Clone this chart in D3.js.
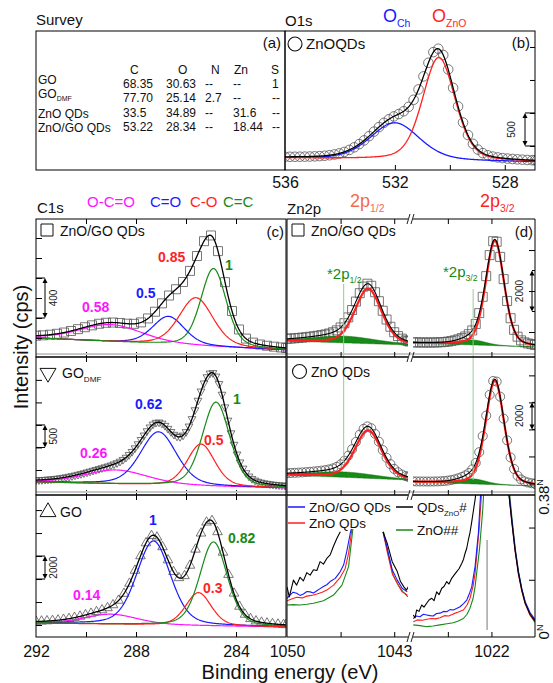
<!DOCTYPE html>
<html>
<head>
<meta charset="utf-8">
<title>XPS survey, O1s, C1s, Zn2p</title>
<script src="https://cdn.jsdelivr.net/npm/d3@7"></script>
<style>
  body { margin: 0; background: #fff; }
  text { font-family: "Liberation Sans", Arial, sans-serif; }
</style>
</head>
<body>
<script>
// ---------- values ----------
var surveyCols = ["C", "O", "N", "Zn", "S"];
var surveyRows = ["GO", "GO_DMF", "ZnO QDs", "ZnO/GO QDs"];
var surveyVals = [
  ["68.35", "30.63", "--", "--", "1"],
  ["77.70", "25.14", "2.7", "--", "--"],
  ["33.5", "34.89", "--", "31.6", "--"],
  ["53.22", "28.34", "--", "18.44", "--"]
];

// O1s of ZnO QDs : O_Ch , O_ZnO
var o1sCenter = [532.0, 530.4];
var o1sHeight = [560, 1560];
var o1sFwhm = [2.1, 1.4];
var o1sBg = [318, 258];
var o1sTicks = [500, 1000, 1500, 2000];

// C1s : components O-C=O, C=O, C-O, C=C  for ZnO/GO QDs, GO_DMF, GO
var c1sBonds = ["O-C=O", "C=O", "C-O", "C=C"];
var c1sSamples = ["ZnO/GO QDs", "GO_DMF", "GO"];
var c1sCenter = [[289.0, 286.7, 285.6, 284.9], [288.8, 287.1, 285.4, 284.8], [289.0, 287.3, 285.5, 284.9]];
var c1sHeight = [[170, 280, 480, 780], [310, 1180, 930, 1870], [870, 7300, 2870, 7300]];
var c1sFwhm = [[3.0, 1.5, 1.6, 1.2], [3.0, 1.7, 1.3, 1.3], [2.5, 1.6, 1.2, 1.3]];
var c1sBg = [[200, 80], [233, 100], [2175, 1827]];
var c1sRatio = [["0.58", "0.5", "0.85", "1"], ["0.26", "0.62", "0.5", "1"], ["0.14", "1", "0.3", "0.82"]];
var c1sTicks = [[200, 400, 600, 800, 1000, 1200], [500, 1000, 1500, 2000, 2500], [2000, 4000, 6000, 8000, 10000, 12000]];
var c1sBar = [[400, 800], [1000, 1500], [6000, 8000]];

// Zn2p : 2p1/2 (left part of axis), 2p3/2 (right part) for ZnO/GO QDs and ZnO QDs
var zn2pSamples = ["ZnO/GO QDs", "ZnO QDs"];
var zn2pCenter = [1044.7, 1021.6];
var zn2pFwhm = [2.05, 2.5];
var zn2pHeight = [[2680, 5120], [3550, 7700]];
var zn2pSatCenter = [1046.3, 1024.1];
var zn2pSatFwhm = [5, 3.5];
var zn2pSatHeight = [[330, 240], [400, 380]];
var zn2pBgLeft = [[1560, 1370], [2630, 2257]];
var zn2pBgRight = [[1465, 1270], [2110, 1813]];
var zn2pTicks = [[2000, 4000, 6000], [2000, 4000, 6000, 8000, 10000]];
var zn2pBar = [[3000, 5000], [6000, 8000]];

// Zn2p zoom, normalised intensity
var zoomNames = ["ZnO/GO QDs", "ZnO QDs", "QDs_ZnO_#", "ZnO##"];
var goLeft = [[1050.0,0.095],[1049.8,0.104],[1049.6,0.112],[1049.37,0.109],[1049.15,0.103],[1048.93,0.107],[1048.7,0.114],[1048.49,0.113],[1048.27,0.110],[1048.05,0.116],[1047.84,0.122],[1047.62,0.128],[1047.4,0.133],[1047.18,0.142],[1046.85,0.151],[1046.52,0.170],[1046.3,0.189],[1046.1,0.226],[1045.87,0.278],[1045.8,0.29]];
var goLeft2 = [[1043.73,0.282],[1043.46,0.236],[1043.13,0.175],[1042.8,0.146],[1042.48,0.123],[1042.15,0.113]];
var goRight = [[1030.97,0.038],[1030.6,0.045],[1030.2,0.043],[1029.8,0.050],[1029.43,0.048],[1029.05,0.046],[1028.67,0.045],[1028.3,0.052],[1027.9,0.053],[1027.5,0.058],[1027.13,0.057],[1026.75,0.063],[1026.37,0.062],[1026.0,0.066],[1025.6,0.071],[1025.2,0.080],[1024.83,0.090],[1024.5,0.110],[1024.26,0.127],[1023.88,0.184],[1023.5,0.278],[1023.19,0.41]];
var goRight2 = [[1020.06,0.41],[1019.67,0.318],[1019.29,0.235],[1018.91,0.170],[1018.52,0.122],[1018.14,0.086],[1017.57,0.055],[1017.0,0.035]];
var znoLeft = [[1050.0,0.088],[1049.7,0.093],[1049.37,0.098],[1049.0,0.096],[1048.71,0.101],[1048.4,0.103],[1048.05,0.107],[1047.7,0.112],[1047.4,0.118],[1046.96,0.132],[1046.52,0.154],[1046.2,0.179],[1045.98,0.221],[1045.76,0.29]];
var znoLeft2 = [[1043.73,0.282],[1043.46,0.226],[1043.13,0.165],[1042.8,0.137],[1042.48,0.113],[1042.15,0.104]];
var znoRight = [[1030.97,0.029],[1030.5,0.034],[1029.9,0.033],[1029.43,0.036],[1028.9,0.038],[1028.4,0.037],[1027.9,0.040],[1027.4,0.046],[1026.9,0.045],[1026.37,0.051],[1025.8,0.056],[1025.22,0.062],[1024.8,0.076],[1024.46,0.095],[1024.1,0.130],[1023.88,0.165],[1023.42,0.287],[1023.08,0.41]];
var znoRight2 = [[1020.06,0.41],[1019.67,0.312],[1019.29,0.228],[1018.91,0.163],[1018.52,0.116],[1018.14,0.080],[1017.57,0.048],[1017.0,0.029]];
var refLeft = [[1050.0,0.127],[1049.85,0.099],[1049.58,0.146],[1049.37,0.132],[1049.15,0.154],[1048.93,0.144],[1048.71,0.167],[1048.49,0.160],[1048.27,0.175],[1048.05,0.173],[1047.84,0.198],[1047.62,0.191],[1047.4,0.207],[1047.18,0.217],[1046.96,0.242],[1046.74,0.264],[1046.52,0.282]];
var refLeft2 = [[1043.73,0.282],[1043.46,0.250],[1043.13,0.198],[1042.8,0.170],[1042.59,0.142],[1042.37,0.127],[1042.2,0.118],[1042.04,0.130]];
var refRight = [[1030.97,0.048],[1030.77,0.040],[1030.58,0.062],[1030.31,0.058],[1030.0,0.076],[1029.74,0.070],[1029.43,0.081],[1029.16,0.090],[1028.85,0.095],[1028.59,0.088],[1028.28,0.113],[1028.01,0.105],[1027.7,0.123],[1027.44,0.128],[1027.13,0.142],[1026.87,0.135],[1026.56,0.151],[1026.29,0.160],[1025.98,0.170],[1025.72,0.178],[1025.41,0.193],[1025.2,0.205],[1025.03,0.221],[1024.84,0.235],[1024.65,0.259],[1024.46,0.280],[1024.26,0.310],[1024.08,0.340],[1023.88,0.372],[1023.69,0.41]];
var refRight2 = [[1020.1,0.41],[1019.7,0.320],[1019.3,0.233],[1018.91,0.167],[1018.52,0.118],[1018.14,0.082],[1017.57,0.050],[1017.0,0.031]];
var bulkLeft = [[1050.0,0.076],[1049.6,0.077],[1049.15,0.076],[1048.7,0.078],[1048.27,0.081],[1047.62,0.088],[1046.96,0.104],[1046.41,0.132],[1045.98,0.184],[1045.7,0.29]];
var bulkLeft2 = [[1043.7,0.282],[1043.4,0.221],[1043.07,0.160],[1042.74,0.132],[1042.42,0.113],[1042.1,0.099]];
var bulkRight = [[1030.97,0.020],[1030.2,0.018],[1029.43,0.015],[1028.7,0.017],[1027.9,0.020],[1027.1,0.023],[1026.37,0.026],[1025.8,0.031],[1025.22,0.038],[1024.8,0.050],[1024.46,0.067],[1024.1,0.095],[1023.88,0.127],[1023.38,0.231],[1023.0,0.343],[1022.85,0.41]];
var bulkRight2 = [[1020.0,0.41],[1019.62,0.315],[1019.25,0.232],[1018.87,0.167],[1018.5,0.120],[1018.1,0.082],[1017.57,0.048],[1017.0,0.027]];
var zoomTicks = [0.147, 0.294];

// ---------- drawing ----------
var blue = "#1a1aff", red = "#ff1f1f", green = "#178a17", magenta = "#ff14ff", salmon = "#f26a50";
var compColors = [magenta, blue, red, green];

var svg = d3.select("body").append("svg").attr("width", 553).attr("height", 683);
var defs = svg.append("defs");

function pv(E, c, h, w) {
  var r = (E - c) / w;
  return h * (0.7 * Math.exp(-4 * Math.LN2 * r * r) + 0.3 / (1 + 4 * r * r));
}
function lin(E, dom, v) { return v[0] + (v[1] - v[0]) * (E - dom[0]) / (dom[1] - dom[0]); }
function grid(dom, step) { return d3.range(dom[0], dom[1] - step / 2, -step).concat([dom[1]]); }

var nclip = 0;
function clipped(x0, y0, x1, y1) {
  var id = "clip" + (nclip++);
  defs.append("clipPath").attr("id", id).append("rect")
    .attr("x", x0).attr("y", y0).attr("width", x1 - x0).attr("height", y1 - y0);
  return svg.append("g").attr("clip-path", "url(#" + id + ")");
}
function drawLine(g, x, y, pts, color, wid) {
  g.append("path").attr("d", d3.line().x(function (d) { return x(d[0]); }).y(function (d) { return y(d[1]); })(pts))
    .attr("fill", "none").attr("stroke", color).attr("stroke-width", wid).attr("stroke-linejoin", "round");
}
function drawMarkers(g, x, y, pts, type, size, flip) {
  g.selectAll(null).data(pts).enter().append("path")
    .attr("d", d3.symbol().type(type).size(size))
    .attr("transform", function (d) { return "translate(" + x(d[0]) + "," + y(d[1]) + ")" + (flip ? " rotate(180)" : ""); })
    .attr("fill", "none").attr("stroke", "#555").attr("stroke-width", 0.8);
}
// text with "_" toggling subscript
function rich(g, x, y, str, size, color, anchor, bold) {
  var t = g.append("text").attr("x", x).attr("y", y).attr("font-size", size)
    .style("fill", color || "#111").attr("text-anchor", anchor || "start");
  if (bold) t.attr("font-weight", "bold");
  var sub = false;
  str.split("_").forEach(function (p, i) {
    var s = t.append("tspan").text(p);
    if (i > 0) {
      sub = !sub;
      if (sub) s.attr("font-size", size * 0.58).attr("dy", size * 0.28);
      else s.attr("dy", -size * 0.28);
    }
  });
  return t;
}
function ticks(axis, tx, ty) {
  var a = svg.append("g").attr("transform", "translate(" + tx + "," + ty + ")").call(axis);
  a.select(".domain").remove();
  a.selectAll("line").attr("stroke", "#000");
  return a;
}
function hline(x0, x1, y, col, w) {
  svg.append("line").attr("x1", x0).attr("x2", x1).attr("y1", y).attr("y2", y).attr("stroke", col || "#000").attr("stroke-width", w || 1);
}
function vline(x, y0, y1, col, w) {
  svg.append("line").attr("x1", x).attr("x2", x).attr("y1", y0).attr("y2", y1).attr("stroke", col || "#000").attr("stroke-width", w || 1);
}
// double arrow scale bar with caps towards the axis
function bar(x, y0, y1, capTo, txt, tx) {
  vline(x, y0 + 2, y1 - 2, "#000", 1);
  [[y0, 1], [y1, -1]].forEach(function (e) {
    svg.append("path").attr("d", "M" + (x - 2.5) + "," + (e[0] + 5 * e[1]) + "L" + x + "," + e[0] + "L" + (x + 2.5) + "," + (e[0] + 5 * e[1]) + "Z").attr("fill", "#000");
    hline(Math.min(x, capTo), Math.max(x, capTo), e[0]);
  });
  svg.append("text").attr("transform", "translate(" + tx + "," + ((y0 + y1) / 2) + ") rotate(-90)")
    .attr("text-anchor", "middle").attr("font-size", 10).style("fill", "#222").text(txt);
}

// ----- (a) survey table -----
svg.append("rect").attr("x", 36).attr("y", 31).attr("width", 249).attr("height", 139).attr("fill", "none").attr("stroke", "#000");
rich(svg, 36, 25, "Survey", 15);
rich(svg, 281, 48, "(a)", 15, "#111", "end");
var headX = [130, 178, 211, 234, 271], valX = [123, 166, 205, 233, 272];
var rowY = [84, 98, 118, 132], valY = [88, 102, 117, 131];
surveyCols.forEach(function (c, j) { rich(svg, headX[j], 74, c, 12); });
surveyRows.forEach(function (r, i) {
  rich(svg, 38, rowY[i], r, 12);
  surveyVals[i].forEach(function (v, j) { rich(svg, valX[j], valY[i], v, 12); });
});

// ----- (b) O1s -----
var bX = d3.scaleLinear().domain([536, 526.9]).range([285, 535]);
var bY = d3.scaleLinear().domain([136, 2242]).range([170, 31]);
function bBg(E) { return lin(E, bX.domain(), o1sBg); }
function bComp(E, k) { return pv(E, o1sCenter[k], o1sHeight[k], o1sFwhm[k]); }
var gb = clipped(285, 31, 535, 170);
drawMarkers(gb, bX, bY, grid(bX.domain(), 0.18).map(function (e) { return [e, bBg(e) + bComp(e, 0) + bComp(e, 1)]; }), d3.symbolCircle, 72);
var bFine = grid(bX.domain(), 0.03);
drawLine(gb, bX, bY, bFine.map(function (e) { return [e, bBg(e) + bComp(e, 0)]; }), blue, 1.3);
drawLine(gb, bX, bY, bFine.map(function (e) { return [e, bBg(e) + bComp(e, 1)]; }), red, 1.3);
drawLine(gb, bX, bY, bFine.map(function (e) { return [e, bBg(e) + bComp(e, 0) + bComp(e, 1)]; }), "#000", 1.3);
svg.append("rect").attr("x", 285).attr("y", 31).attr("width", 250).attr("height", 139).attr("fill", "none").attr("stroke", "#000");
ticks(d3.axisBottom(bX).tickValues([534, 532, 530, 528]).tickSize(-5).tickFormat(""), 0, 170);
ticks(d3.axisRight(bY).tickValues(o1sTicks).tickSize(-5).tickFormat(""), 535, 0);
ticks(d3.axisBottom(bX).tickValues([536, 532, 528]).tickSize(0).tickPadding(7).tickFormat(d3.format("d")), 0, 170)
  .selectAll("text").attr("font-size", 16).style("fill", "#111");
bar(525, bY(1000), bY(500), 535, "500", 515);
rich(svg, 285, 26, "O1s", 15);
rich(svg, 383, 22, "O_Ch", 18, blue);
rich(svg, 432, 22, "O_ZnO", 18, red);
svg.append("circle").attr("cx", 295).attr("cy", 44).attr("r", 7).attr("fill", "none").attr("stroke", "#111").attr("stroke-width", 1.1);
rich(svg, 306, 49, "ZnOQDs", 15);
rich(svg, 530, 48, "(b)", 15, "#111", "end");

// ----- (c) C1s -----
var subTop = [219, 357, 495], subBot = [357, 495, 637];
var cX = d3.scaleLinear().domain([292, 282]).range([36, 286]);
var cYdom = [[10, 1390], [-55, 3008], [957, 13311]];
var cStep = [0.28, 0.12, 0.22];
var cSym = [[d3.symbolSquare, 81, false], [d3.symbolTriangle, 26, true], [d3.symbolTriangle, 40, false]];
var ratioPos = [[[82, 312], [136, 298], [158, 262], [225, 270]],
                [[80, 458], [135, 409], [204, 445], [233, 404]],
                [[73, 600], [149, 525], [203, 593], [228, 543]]];
c1sSamples.forEach(function (name, s) {
  var y = d3.scaleLinear().domain(cYdom[s]).range([subBot[s], subTop[s]]);
  var bg = function (E) { return lin(E, cX.domain(), c1sBg[s]); };
  var comp = function (E, k) { return pv(E, c1sCenter[s][k], c1sHeight[s][k], c1sFwhm[s][k]); };
  var tot = function (E) { return bg(E) + comp(E, 0) + comp(E, 1) + comp(E, 2) + comp(E, 3); };
  var g = clipped(36, subTop[s], 286, subBot[s]);
  drawMarkers(g, cX, y, grid(cX.domain(), cStep[s]).map(function (e) { return [e, tot(e)]; }), cSym[s][0], cSym[s][1], cSym[s][2]);
  var fine = grid(cX.domain(), 0.03);
  c1sBonds.forEach(function (b, k) {
    drawLine(g, cX, y, fine.map(function (e) { return [e, bg(e) + comp(e, k)]; }), compColors[k], 1.2);
  });
  drawLine(g, cX, y, fine.map(function (e) { return [e, tot(e)]; }), "#000", 1.3);
  ticks(d3.axisLeft(y).tickValues(c1sTicks[s]).tickSize(-6).tickFormat(""), 36, 0);
  ticks(d3.axisTop(cX).tickValues([290, 288, 286, 284]).tickSize(-5).tickFormat(""), 0, subTop[s]);
  ticks(d3.axisBottom(cX).tickValues([290, 288, 286, 284]).tickSize(-5).tickFormat(""), 0, subBot[s]);
  bar(45, y(c1sBar[s][1]), y(c1sBar[s][0]), 36, String(c1sBar[s][1] - c1sBar[s][0]), 57);
  c1sRatio[s].forEach(function (r, k) { rich(svg, ratioPos[s][k][0], ratioPos[s][k][1], r, 14, compColors[k], "start", true); });
});
rich(svg, 37, 213, "C1s", 15);
var bondX = [87, 150, 190, 223];
c1sBonds.forEach(function (b, k) { rich(svg, bondX[k], 207, b, 15, compColors[k]); });
rich(svg, 284, 237, "(c)", 15, "#111", "end");
svg.append("path").attr("d", d3.symbol().type(d3.symbolSquare).size(144)).attr("transform", "translate(47,230)").attr("fill", "none").attr("stroke", "#111");
rich(svg, 60, 236, "ZnO/GO QDs", 14);
svg.append("path").attr("d", d3.symbol().type(d3.symbolTriangle).size(110)).attr("transform", "translate(48,373) rotate(180)").attr("fill", "none").attr("stroke", "#111");
rich(svg, 62, 378, "GO_DMF", 14);
svg.append("path").attr("d", d3.symbol().type(d3.symbolTriangle).size(110)).attr("transform", "translate(48,512)").attr("fill", "none").attr("stroke", "#111");
rich(svg, 60, 517, "GO", 14);

// ----- (d) Zn2p -----
var dXL = d3.scaleLinear().domain([1050, 1042.1]).range([287, 408]);
var dXR = d3.scaleLinear().domain([1031, 1017]).range([413, 535]);
var dSegs = [[dXL, zn2pBgLeft, 0.25, 287, 408], [dXR, zn2pBgRight, 0.4, 413, 535]];
var dYdom = [[781, 7515], [1147, 11359]];
var dSym = [[d3.symbolSquare, 81], [d3.symbolCircle, 64]];
zn2pSamples.forEach(function (name, s) {
  var y = d3.scaleLinear().domain(dYdom[s]).range([subBot[s], subTop[s]]);
  dSegs.forEach(function (seg, p) {
    var x = seg[0];
    var bg = function (E) { return lin(E, x.domain(), seg[1][s]); };
    var main = function (E) { return pv(E, zn2pCenter[p], zn2pHeight[s][p], zn2pFwhm[p]); };
    var sat = function (E) { return pv(E, zn2pSatCenter[p], zn2pSatHeight[s][p], zn2pSatFwhm[p]); };
    var g = clipped(seg[3], subTop[s], seg[4], subBot[s]);
    drawMarkers(g, x, y, grid(x.domain(), seg[2]).map(function (e) { return [e, bg(e) + main(e) + sat(e)]; }), dSym[s][0], dSym[s][1]);
    var fine = grid(x.domain(), 0.03);
    g.append("path").datum(fine)
      .attr("d", d3.area().x(function (e) { return x(e); }).y0(function (e) { return y(bg(e)); }).y1(function (e) { return y(bg(e) + sat(e)); }))
      .attr("fill", green).attr("stroke", "#0f6a0f").attr("stroke-width", 0.5);
    drawLine(g, x, y, fine.map(function (e) { return [e, bg(e) + main(e)]; }), red, 2.2);
    drawLine(g, x, y, fine.map(function (e) { return [e, bg(e) + main(e) + sat(e)]; }), "#000", 1.1);
  });
  ticks(d3.axisRight(y).tickValues(zn2pTicks[s]).tickSize(-6).tickFormat(""), 535, 0);
  bar(532, y(zn2pBar[s][1]), y(zn2pBar[s][0]), 535, "2000", 523);
});

// Zn2p zoom panel
var zY = d3.scaleLinear().domain([0, 0.38]).range([632, 497]);
var gzl = clipped(287, 495, 408, 637), gzr = clipped(413, 495, 535, 637);
var zoomColors = [green, red, blue, "#000"];
[[bulkLeft, bulkLeft2], [znoLeft, znoLeft2], [goLeft, goLeft2], [refLeft, refLeft2]].forEach(function (a, i) {
  drawLine(gzl, dXL, zY, a[0], zoomColors[i], 1.1);
  drawLine(gzl, dXL, zY, a[1], zoomColors[i], 1.1);
});
[[bulkRight, bulkRight2], [znoRight, znoRight2], [goRight, goRight2], [refRight, refRight2]].forEach(function (a, i) {
  drawLine(gzr, dXR, zY, a[0], zoomColors[i], 1.1);
  drawLine(gzr, dXR, zY, a[1], zoomColors[i], 1.1);
});
vline(dXR(1022.5), 540, 630, "#777", 1);
ticks(d3.axisRight(zY).tickValues(zoomTicks).tickSize(-6).tickFormat(""), 535, 0);
[[0.38, "0.38"], [0, "0"]].forEach(function (t) {
  var tx = svg.append("text").attr("transform", "translate(549," + zY(t[0]) + ") rotate(-90)")
    .attr("text-anchor", "middle").attr("font-size", 15).style("fill", "#111");
  tx.append("tspan").text(t[1]);
  tx.append("tspan").attr("font-size", 9).attr("dy", -6).text("N");
});
// legend of the zoom panel
var legX = [288, 288, 396, 396], legY = [507, 523, 507, 530], legCol = [blue, red, "#000", green];
zoomNames.forEach(function (n, i) {
  hline(legX[i], legX[i] + 17, legY[i], legCol[i], 1.5);
  rich(svg, legX[i] + 21, legY[i] + 5, n, 13.5);
});

// satellite markers
vline(dXL(zn2pSatCenter[0]), 284, 462, "#8fd18f", 1);
vline(dXR(zn2pSatCenter[1]), 289, 480, "#8fd18f", 1);
rich(svg, 327, 279, "*2p_1/2", 15, green);
rich(svg, 443, 277, "*2p_3/2", 15, green);

// frames and separators
[357, 495].forEach(function (yy) { hline(36, 535, yy - 3, "#c8c8c8", 2); });
subTop.forEach(function (t, s) {
  svg.append("rect").attr("x", 36).attr("y", t).attr("width", 250).attr("height", subBot[s] - t).attr("fill", "none").attr("stroke", "#000");
  hline(287, 408, t); hline(413, 535, t);
  hline(287, 408, subBot[s]); hline(413, 535, subBot[s]);
  vline(287, t, subBot[s]); vline(535, t, subBot[s]);
});
[219, 357, 495, 637].forEach(function (yy) {
  [407, 411].forEach(function (bx) {
    svg.append("line").attr("x1", bx).attr("y1", yy + 5).attr("x2", bx + 3).attr("y2", yy - 5).attr("stroke", "#222").attr("stroke-width", 1);
  });
  ticks(d3.axisTop(dXL).tickValues([1046.5, 1043]).tickSize(yy == 219 ? -5 : 5).tickFormat(""), 0, yy);
  ticks(d3.axisTop(dXR).tickValues([1027, 1022]).tickSize(yy == 219 ? -5 : 5).tickFormat(""), 0, yy);
});
rich(svg, 287, 214, "Zn2p", 15);
rich(svg, 350, 207, "2p_1/2", 18, salmon);
rich(svg, 480, 207, "2p_3/2", 18, red);
rich(svg, 533, 237, "(d)", 15, "#111", "end");
svg.append("path").attr("d", d3.symbol().type(d3.symbolSquare).size(144)).attr("transform", "translate(298,230)").attr("fill", "none").attr("stroke", "#111");
rich(svg, 311, 236, "ZnO/GO QDs", 14);
svg.append("circle").attr("cx", 299.5).attr("cy", 371.5).attr("r", 7).attr("fill", "none").attr("stroke", "#111").attr("stroke-width", 1.1);
rich(svg, 311, 377, "ZnO QDs", 14);

// bottom tick labels
function bottomLabels(x, vals) {
  ticks(d3.axisBottom(x).tickValues(vals).tickSize(0).tickPadding(9).tickFormat(d3.format("d")), 0, 637)
    .selectAll("text").attr("font-size", 16).style("fill", "#111");
}
bottomLabels(cX, [292, 288, 284]);
bottomLabels(dXL, [1050, 1043]);
bottomLabels(dXR, [1022]);

svg.append("text").attr("transform", "translate(28,347) rotate(-90)").attr("text-anchor", "middle")
  .attr("font-size", 20).style("fill", "#111").text("Intensity (cps)");
svg.append("text").attr("x", 290).attr("y", 679).attr("text-anchor", "middle")
  .attr("font-size", 20).style("fill", "#111").text("Binding energy (eV)");
</script>
</body>
</html>
